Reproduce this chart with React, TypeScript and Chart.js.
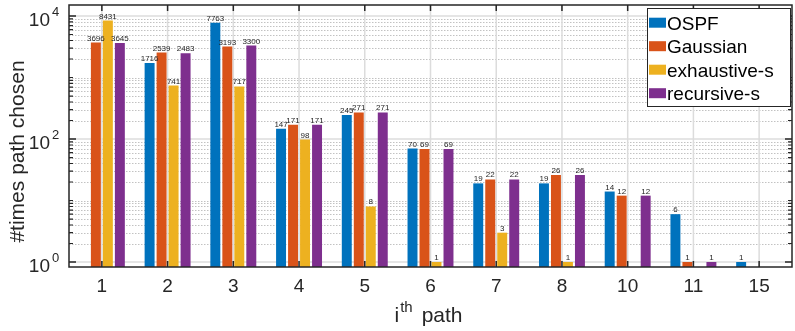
import React, { useEffect, useRef } from "react";
import { Chart, registerables } from "chart.js";

Chart.register(...registerables);

const categories = ["1", "2", "3", "4", "5", "6", "7", "8", "10", "11", "15"];
const seriesNames = ["OSPF", "Gaussian", "exhaustive-s", "recursive-s"];
const ospf = [null, 1716, 7763, 147, 245, 70, 19, 19, 14, 6, 1];
const gaussian = [3696, 2539, 3193, 171, 271, 69, 22, 26, 12, 1, null];
const exhaustive = [8431, 741, 717, 98, 8, 1, 3, 1, null, null, null];
const recursive = [3645, 2483, 3300, 171, 271, 69, 22, 26, 12, 1, null];
const seriesColors = ["#0072BD", "#D95319", "#EDB120", "#7E2F8E"];
const majorTicks = [1, 100, 10000];
const majorExponents = ["0", "2", "4"];
const yMin = 0.83;
const yMax = 15100;
const xTitleBase = "i";
const xTitleSup = "th";
const xTitleRest = "path";
const yTitle = "#times path chosen";

const FONT = "'Liberation Sans', Arial, Helvetica, sans-serif";
const AXIS = "#262626";

function minorValues(): number[] {
  const out: number[] = [];
  for (let k = 0; k <= 4; k++) {
    for (let m = 1; m <= 9; m++) {
      const v = m * Math.pow(10, k);
      if (v < yMin || v > yMax) continue;
      if (majorTicks.includes(v)) continue;
      out.push(v);
    }
  }
  return out;
}

const matlabPlugin = {
  id: "matlabStyle",
  beforeDatasetsDraw(chart: any) {
    const { ctx, chartArea: ca, scales } = chart;
    const xs = scales.x;
    const ys = scales.y;
    ctx.save();
    // minor dotted grid
    ctx.strokeStyle = "#c2c2c2";
    ctx.lineWidth = 1;
    ctx.setLineDash([1.5, 1.5]);
    for (const v of minorValues()) {
      const py = Math.round(ys.getPixelForValue(v)) + 0.5;
      ctx.beginPath();
      ctx.moveTo(ca.left, py);
      ctx.lineTo(ca.right, py);
      ctx.stroke();
    }
    ctx.setLineDash([]);
    // major grid
    ctx.strokeStyle = "#dcdcdc";
    ctx.lineWidth = 1.5;
    for (const v of majorTicks) {
      const py = ys.getPixelForValue(v);
      ctx.beginPath();
      ctx.moveTo(ca.left, py);
      ctx.lineTo(ca.right, py);
      ctx.stroke();
    }
    // vertical grid
    for (let i = 0; i < categories.length; i++) {
      const px = xs.getPixelForValue(i);
      ctx.beginPath();
      ctx.moveTo(px, ca.top);
      ctx.lineTo(px, ca.bottom);
      ctx.stroke();
    }
    ctx.restore();
  },
  afterDatasetsDraw(chart: any) {
    const { ctx, chartArea: ca, scales } = chart;
    const xs = scales.x;
    const ys = scales.y;
    ctx.save();
    // data labels
    ctx.fillStyle = AXIS;
    ctx.font = `8px ${FONT}`;
    ctx.textAlign = "center";
    ctx.textBaseline = "alphabetic";
    chart.data.datasets.forEach((ds: any, di: number) => {
      const meta = chart.getDatasetMeta(di);
      ds.data.forEach((v: any, j: number) => {
        if (v === null || v === undefined) return;
        const el = meta.data[j];
        ctx.fillText(String(v), el.x, el.y - 2);
      });
    });

    // box
    ctx.strokeStyle = AXIS;
    ctx.lineWidth = 1.5;
    ctx.strokeRect(ca.left, ca.top, ca.right - ca.left, ca.bottom - ca.top);

    // y ticks
    ctx.lineWidth = 1.2;
    const drawYTick = (v: number, len: number) => {
      const py = ys.getPixelForValue(v);
      ctx.beginPath();
      ctx.moveTo(ca.left, py);
      ctx.lineTo(ca.left + len, py);
      ctx.moveTo(ca.right, py);
      ctx.lineTo(ca.right - len, py);
      ctx.stroke();
    };
    for (const v of minorValues()) drawYTick(v, 4);
    ctx.lineWidth = 1.5;
    for (const v of majorTicks) drawYTick(v, 7);

    // x ticks
    for (let i = 0; i < categories.length; i++) {
      const px = xs.getPixelForValue(i);
      ctx.beginPath();
      ctx.moveTo(px, ca.bottom);
      ctx.lineTo(px, ca.bottom - 6);
      ctx.moveTo(px, ca.top);
      ctx.lineTo(px, ca.top + 6);
      ctx.stroke();
    }

    // x tick labels
    ctx.fillStyle = AXIS;
    ctx.font = `19px ${FONT}`;
    ctx.textAlign = "center";
    for (let i = 0; i < categories.length; i++) {
      const px = xs.getPixelForValue(i);
      ctx.fillText(categories[i], px, ca.bottom + 25);
    }

    // y tick labels
    majorTicks.forEach((v, i) => {
      const py = ys.getPixelForValue(v);
      ctx.font = `19px ${FONT}`;
      ctx.textAlign = "right";
      ctx.fillText("10", ca.left - 19, py + 10);
      ctx.font = `13px ${FONT}`;
      ctx.textAlign = "left";
      ctx.fillText(majorExponents[i], ca.left - 17, py);
    });

    // x title
    const cx = (ca.left + ca.right) / 2;
    ctx.font = `21px ${FONT}`;
    const wI = ctx.measureText(xTitleBase).width;
    const wP = ctx.measureText(xTitleRest).width;
    ctx.font = `15px ${FONT}`;
    const wS = ctx.measureText(xTitleSup).width;
    const gap1 = 1;
    const gap2 = 9;
    const total = wI + gap1 + wS + gap2 + wP;
    let sx = cx - total / 2 - 2;
    const base = 322;
    ctx.textAlign = "left";
    ctx.font = `21px ${FONT}`;
    ctx.fillText(xTitleBase, sx, base);
    sx += wI + gap1;
    ctx.font = `15px ${FONT}`;
    ctx.fillText(xTitleSup, sx, base - 10);
    sx += wS + gap2;
    ctx.font = `21px ${FONT}`;
    ctx.fillText(xTitleRest, sx, base);

    // y title
    ctx.save();
    ctx.translate(24, 151.5);
    ctx.rotate(-Math.PI / 2);
    ctx.textAlign = "center";
    ctx.font = `21px ${FONT}`;
    ctx.fillText(yTitle, 0, 0);
    ctx.restore();

    // legend
    const lx = 647, ly = 8, lw = 143, lh = 98;
    ctx.fillStyle = "#ffffff";
    ctx.fillRect(lx, ly, lw, lh);
    ctx.strokeStyle = AXIS;
    ctx.lineWidth = 1;
    ctx.strokeRect(lx + 0.5, ly + 0.5, lw, lh);
    ctx.font = `19px ${FONT}`;
    ctx.textAlign = "left";
    chart.data.datasets.forEach((ds: any, di: number) => {
      const cy = 22.7 + di * 23.5;
      ctx.fillStyle = ds.backgroundColor;
      ctx.fillRect(lx + 2, cy - 5, 17, 10);
      ctx.fillStyle = "#000000";
      ctx.fillText(ds.label, lx + 20, cy + 7);
    });
    ctx.restore();
  },
};

export default function App() {
  const canvasRef = useRef<HTMLCanvasElement | null>(null);
  useEffect(() => {
    if (!canvasRef.current) return;
    const seriesData = [ospf, gaussian, exhaustive, recursive];
    const chart = new Chart(canvasRef.current, {
      type: "bar",
      data: {
        labels: categories,
        datasets: seriesNames.map((name, i) => ({
          label: name,
          data: seriesData[i] as any,
          backgroundColor: seriesColors[i],
          borderWidth: 0,
          categoryPercentage: 0.73,
          barPercentage: 0.83,
        })),
      },
      options: {
        responsive: false,
        animation: false,
        devicePixelRatio: 1,
        layout: { padding: { left: 69, right: 3, top: 5, bottom: 64 } },
        plugins: {
          legend: { display: false },
          tooltip: { enabled: false },
          title: { display: false },
        },
        scales: {
          x: { type: "category", display: false, offset: true },
          y: { type: "logarithmic", display: false, min: yMin, max: yMax },
        },
      },
      plugins: [matlabPlugin],
    });
    return () => chart.destroy();
  }, []);
  return (
    <div style={{ position: "absolute", left: 0, top: 0, width: 795, height: 331, background: "#ffffff" }}>
      <canvas ref={canvasRef} width={795} height={331} style={{ display: "block" }} />
    </div>
  );
}
